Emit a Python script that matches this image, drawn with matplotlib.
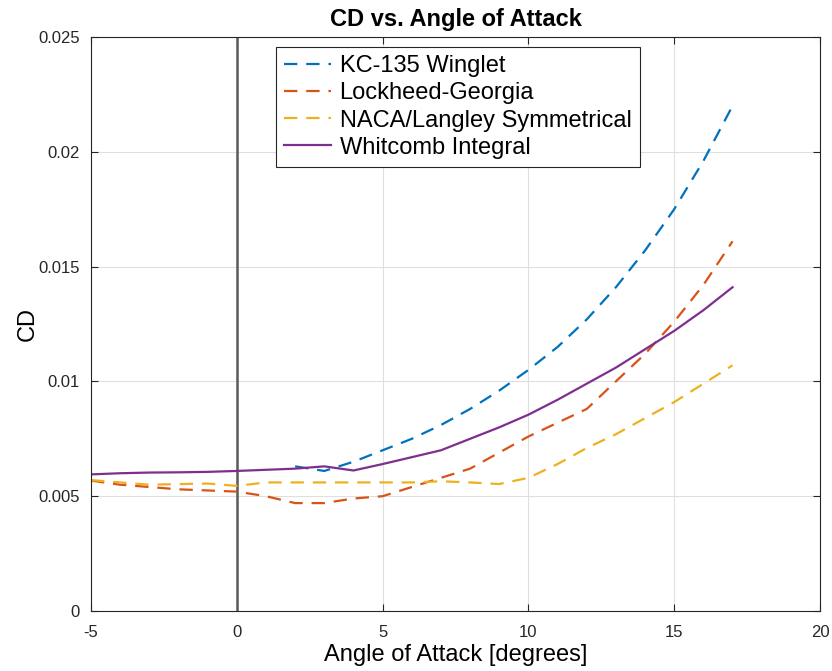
import numpy as np
import matplotlib.pyplot as plt

plt.rcParams['font.family'] = ['Liberation Sans', 'DejaVu Sans']
plt.rcParams['axes.unicode_minus'] = False

# angle of attack [deg]
alpha_kc = [2, 3, 4, 5, 6, 7, 8, 9, 10, 11, 12, 13, 14, 15, 16, 17]
cd_kc = [0.0063, 0.0061, 0.0065, 0.0070, 0.0075, 0.0081, 0.0088, 0.0096,
         0.0105, 0.0115, 0.0127, 0.0141, 0.0157, 0.0175, 0.0196, 0.0220]

alpha_full = list(range(-5, 18))
cd_lock = [0.00568, 0.0055, 0.0054, 0.0053, 0.00525, 0.0052, 0.0050, 0.0047,
           0.0047, 0.0049, 0.0050, 0.0054, 0.0058, 0.0062, 0.0069, 0.0076,
           0.0082, 0.0088, 0.0100, 0.0112, 0.0126, 0.0142, 0.0161]
cd_naca = [0.0057, 0.0056, 0.0055, 0.00553, 0.00555, 0.00545, 0.0056, 0.0056,
           0.0056, 0.0056, 0.0056, 0.0056, 0.00565, 0.0056, 0.00553, 0.0058,
           0.0064, 0.0071, 0.0077, 0.0084, 0.0091, 0.0099, 0.0107]
cd_whit = [0.00595, 0.0060, 0.00603, 0.00604, 0.00606, 0.0061, 0.00615, 0.0062,
           0.0063, 0.00612, 0.0064, 0.0067, 0.0070, 0.0075, 0.0080, 0.00855,
           0.0092, 0.0099, 0.0106, 0.0114, 0.0122, 0.0131, 0.0141]

fig = plt.figure(figsize=(8.32, 6.71), dpi=100)
ax = fig.add_axes([0.1094, 0.0894, 0.8762, 0.8555])

ax.plot(alpha_kc, cd_kc, '--', color='#0072BD', lw=1.6, dashes=(6, 4), label='KC-135 Winglet')
ax.plot(alpha_full, cd_lock, '--', color='#D95319', lw=1.6, dashes=(6, 4), label='Lockheed-Georgia')
ax.plot(alpha_full, cd_naca, '--', color='#EDB120', lw=1.6, dashes=(6, 4), label='NACA/Langley Symmetrical')
ax.plot(alpha_full, cd_whit, '-', color='#7E2F8E', lw=1.6, label='Whitcomb Integral')
ax.axvline(0, color='#5a5a5a', lw=1.8, zorder=1)

ax.set_xlim(-5, 20)
ax.set_ylim(0, 0.025)
ax.set_xticks(np.arange(-5, 21, 5))
ax.set_yticks(np.arange(0, 0.0251, 0.005))
ax.set_yticklabels(['0', '0.005', '0.01', '0.015', '0.02', '0.025'])
ax.grid(True, color='#dfdfdf', lw=0.8)
ax.set_axisbelow(True)
ax.tick_params(direction='in', labelsize=12, colors='#262626', top=True, right=True, length=5)
ax.tick_params(axis='y', pad=8)
ax.tick_params(axis='x', pad=10)
for s in ax.spines.values():
    s.set_color('#262626')
    s.set_linewidth(0.8)

ax.set_title('CD vs. Angle of Attack', fontsize=17, fontweight='bold', pad=8)
ax.set_xlabel('Angle of Attack [degrees]', fontsize=17, labelpad=3)
ax.set_ylabel('CD', fontsize=17, labelpad=0)

leg = ax.legend(loc='upper center', bbox_to_anchor=(0.503, 0.991), fontsize=17,
                fancybox=False, edgecolor='#262626', framealpha=1,
                handlelength=2.0, borderpad=0.35, labelspacing=0.22, handletextpad=0.35,
                borderaxespad=0.2)
leg.get_frame().set_linewidth(0.8)

fig.savefig('out.png', dpi=100)
